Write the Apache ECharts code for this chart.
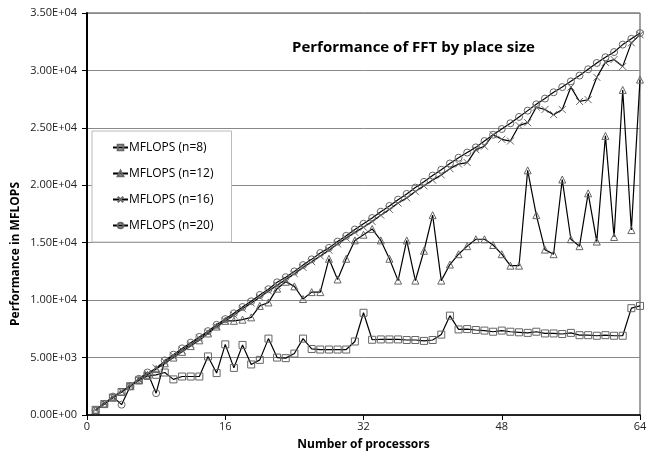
<!DOCTYPE html>
<html>
<head>
<meta charset="utf-8">
<script src="https://cdn.jsdelivr.net/npm/echarts@6/dist/echarts.min.js"></script>
<style>
  html, body { margin: 0; padding: 0; background: #fff; }
  #chart { width: 651px; height: 456px; }
</style>
</head>
<body>
<div id="chart"></div>
<script>
// number of processors (x axis)
var processors = [1, 2, 3, 4, 5, 6, 7, 8, 9, 10, 11, 12, 13, 14, 15, 16,
  17, 18, 19, 20, 21, 22, 23, 24, 25, 26, 27, 28, 29, 30, 31, 32,
  33, 34, 35, 36, 37, 38, 39, 40, 41, 42, 43, 44, 45, 46, 47, 48,
  49, 50, 51, 52, 53, 54, 55, 56, 57, 58, 59, 60, 61, 62, 63, 64];

var n8 = [450, 950, 1500, 2000, 2500, 3000, 3400, 3500, 3700, 3100, 3350, 3350, 3350, 5100, 3650, 6150,
  4100, 6100, 4400, 4800, 6650, 5000, 4950, 5350, 6650, 5750, 5700, 5700, 5700, 5700, 6400, 8900,
  6550, 6580, 6580, 6580, 6530, 6530, 6450, 6530, 7000, 8650, 7450, 7480, 7400, 7350, 7250, 7350,
  7250, 7200, 7150, 7250, 7100, 7100, 7050, 7150, 6950, 6950, 6900, 6950, 6900, 6900, 9300, 9500];

var n12 = [450, 1000, 1550, 2050, 2550, 3050, 3500, 4000, 4500, 5000, 5500, 6000, 6500, 7100, 7700, 8200,
  8200, 8300, 8500, 9500, 9800, 11000, 11600, 11200, 10100, 10700, 10700, 13600, 11800, 13600, 15200, 15700,
  16200, 15200, 13600, 11700, 15200, 11700, 14300, 17400, 11700, 13100, 14000, 14700, 15300, 15300, 14800, 14000,
  13000, 13000, 21300, 17400, 14400, 14000, 20500, 15300, 14700, 19300, 15100, 24300, 15500, 28300, 16100, 29200];

var n16 = [450, 1000, 1550, 2050, 2550, 3100, 3600, 4100, 4650, 5150, 5650, 6150, 6700, 7200, 7700, 8200,
  8700, 9250, 9750, 10250, 10800, 11300, 11800, 12300, 12850, 13350, 13850, 14350, 14900, 15400, 15900, 16350,
  16850, 17400, 17900, 18450, 18900, 19450, 19950, 20450, 20900, 21450, 21850, 21980, 23100, 23400, 24400, 24000,
  23850, 25200, 25450, 26800, 26600, 26150, 26600, 28550, 27300, 27450, 29400, 30700, 30950, 30350, 32400, 33100];

var n20 = [400, 950, 1600, 900, 2500, 3150, 3700, 1900, 4750, 5250, 5800, 6300, 6800, 7300, 7850, 8350,
  8850, 9400, 9900, 10450, 10950, 11550, 12000, 12500, 13050, 13550, 14100, 14550, 15100, 15600, 16150, 16650,
  17150, 17700, 18200, 18750, 19250, 19800, 20300, 20850, 21350, 21900, 22400, 22850, 23300, 23850, 24400, 24900,
  25400, 25950, 26500, 27050, 27550, 28100, 28550, 29050, 29550, 30100, 30650, 31150, 31600, 32250, 32750, 33250];

var xTicks = [0, 16, 32, 48, 64];

var font = '"Open Sans", "Liberation Sans", sans-serif';

function pairs(arr) {
  return processors.map(function (p, i) { return [p, arr[i]]; });
}

// Excel style 0.00E+00
function sci(v) {
  var s = Number(v).toExponential(2).split('e');
  var exp = parseInt(s[1], 10);
  var sign = exp < 0 ? '-' : '+';
  var e = Math.abs(exp);
  return s[0] + 'E' + sign + (e < 10 ? '0' + e : e);
}

function mkSeries(name, arr, symbol) {
  return {
    name: name,
    type: 'line',
    data: pairs(arr),
    symbol: symbol,
    symbolSize: 7,
    showAllSymbol: true,
    lineStyle: { color: '#000', width: 1.2 },
    itemStyle: {
      color: 'rgba(255,255,255,0)',
      borderColor: '#666',
      borderWidth: 1
    },
    emphasis: { disabled: true },
    animation: false
  };
}

var chart = echarts.init(document.getElementById('chart'));
var option = {
  backgroundColor: '#fff',
  animation: false,
  title: {
    text: 'Performance of FFT by place size',
    left: 287,
    top: 35,
    textStyle: { fontFamily: font, fontSize: 15, fontWeight: 'bold', color: '#000' }
  },
  legend: {
    orient: 'vertical',
    left: 92,
    top: 131,
    padding: [9, 18, 9, 20],
    itemGap: 11,
    itemWidth: 15,
    itemHeight: 7,
    backgroundColor: '#fff',
    borderColor: '#bbb',
    borderWidth: 1,
    textStyle: { fontFamily: font, fontSize: 12, color: '#000', lineHeight: 15, padding: [0, 0, 0, -4] },
    data: ['MFLOPS (n=8)', 'MFLOPS (n=12)', 'MFLOPS (n=16)', 'MFLOPS (n=20)']
  },
  grid: {
    left: 87,
    right: 11,
    top: 13,
    bottom: 39,
    show: true,
    borderColor: '#444',
    borderWidth: 1
  },
  xAxis: {
    type: 'value',
    min: 0,
    max: 64,
    interval: 16,
    name: 'Number of processors',
    nameLocation: 'middle',
    nameGap: 24,
    nameTextStyle: { fontFamily: font, fontSize: 12, fontWeight: 'bold', color: '#000' },
    axisLine: { lineStyle: { color: '#000', width: 1.5 } },
    axisTick: { show: true, length: 5, lineStyle: { color: '#000' } },
    axisLabel: {
      fontFamily: font, fontSize: 11, color: '#222', margin: 6,
      formatter: function (v) { return xTicks.indexOf(v) >= 0 ? String(v) : ''; }
    },
    splitLine: { show: false }
  },
  yAxis: {
    type: 'value',
    min: 0,
    max: 35000,
    interval: 5000,
    axisLine: { show: true, lineStyle: { color: '#000', width: 2 } },
    axisTick: { show: true, length: 5, lineStyle: { color: '#000' } },
    axisLabel: { fontFamily: font, fontSize: 11, color: '#222', margin: 10, formatter: sci },
    splitLine: { lineStyle: { color: '#888', width: 1 } }
  },
  graphic: [{
    type: 'text',
    left: 10,
    top: 182,
    rotation: Math.PI / 2,
    style: {
      text: 'Performance in MFLOPS',
      font: 'bold 12px ' + font,
      fill: '#000'
    }
  }],
  series: [
    mkSeries('MFLOPS (n=8)', n8, 'rect'),
    mkSeries('MFLOPS (n=12)', n12, 'triangle'),
    mkSeries('MFLOPS (n=16)', n16, 'path://M0,0L10,10M10,0L0,10'),
    mkSeries('MFLOPS (n=20)', n20, 'circle')
  ]
};
chart.setOption(option);
</script>
</body>
</html>
